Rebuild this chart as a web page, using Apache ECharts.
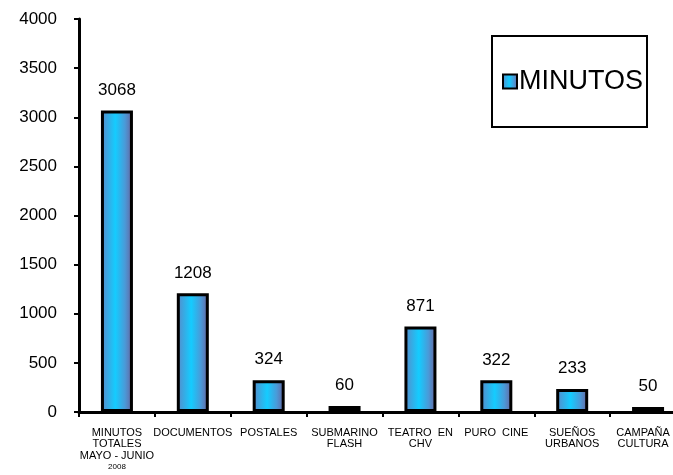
<!DOCTYPE html>
<html>
<head>
<meta charset="utf-8">
<script src="https://cdn.jsdelivr.net/npm/echarts@6/dist/echarts.min.js"></script>
<style>
html,body{margin:0;padding:0;background:#fff;}
#chart{width:673px;height:475px;}
</style>
</head>
<body>
<div id="chart"></div>
<script>
const categories = [
  'MINUTOS\nTOTALES\nMAYO - JUNIO\n2008',
  'DOCUMENTOS',
  'POSTALES',
  'SUBMARINO\nFLASH',
  'TEATRO  EN\nCHV',
  'PURO  CINE',
  'SUEÑOS\nURBANOS',
  'CAMPAÑA\nCULTURA'
];
const minutos = [3068, 1208, 324, 60, 871, 322, 233, 50];
const seriesName = 'MINUTOS';
const yTicks = {min: 0, max: 4000, interval: 500};

const chart = echarts.init(document.getElementById('chart'));
const font = 'Liberation Sans, Arial, sans-serif';
const barGradient = new echarts.graphic.LinearGradient(0, 0, 1, 0, [
  {offset: 0, color: '#5a88c8'},
  {offset: 0.45, color: '#14ccff'},
  {offset: 0.75, color: '#4a9ad8'},
  {offset: 1, color: '#6a609a'}
]);
const catData = categories.map(function (c, i) {
  return i === categories.length - 1 ? {value: c, textStyle: {padding: [0, 10, 0, 0]}} : c;
});
chart.setOption({
  animation: false,
  backgroundColor: '#fff',
  grid: {left: 79, width: 607, top: 19, bottom: 63, containLabel: false, outerBoundsMode: 'none'},
  legend: {
    data: [seriesName],
    left: 492,
    top: 36,
    orient: 'vertical',
    padding: [32, 4, 32, 10],
    borderColor: '#000',
    borderWidth: 2,
    itemWidth: 14,
    itemHeight: 14,
    itemGap: 0,
    icon: 'rect',
    textStyle: {fontFamily: font, fontSize: 27, color: '#000', padding: [0, 0, 0, -3]}
  },
  xAxis: {
    type: 'category',
    data: catData,
    axisLine: {lineStyle: {color: '#000', width: 3}},
    axisTick: {show: true, length: 5, lineStyle: {color: '#000', width: 2}},
    axisLabel: {
      interval: 0,
      margin: 15,
      fontFamily: font,
      fontSize: 11,
      lineHeight: 11.5,
      color: '#000',
      formatter: function (v) { return v.replace('2008', '{s|2008}'); },
      rich: {s: {fontFamily: font, fontSize: 8, lineHeight: 11.5, color: '#000'}}
    }
  },
  yAxis: {
    type: 'value',
    min: yTicks.min,
    max: yTicks.max,
    interval: yTicks.interval,
    splitLine: {show: false},
    axisLine: {show: true, lineStyle: {color: '#000', width: 3}},
    axisTick: {show: true, length: 5, lineStyle: {color: '#000', width: 2}},
    axisLabel: {margin: 22, fontFamily: font, fontSize: 17, color: '#000', formatter: function (v) { return String(v); }}
  },
  series: [{
    name: seriesName,
    type: 'bar',
    data: minutos,
    barWidth: 32,
    itemStyle: {color: barGradient, borderColor: '#000', borderWidth: 3},
    label: {show: true, position: 'top', distance: 12, fontFamily: font, fontSize: 17, color: '#000'}
  }]
});
</script>
</body>
</html>
